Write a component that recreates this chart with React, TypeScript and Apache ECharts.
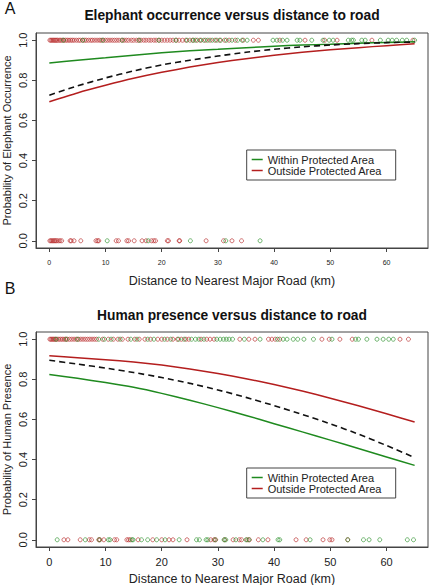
import React, { useEffect, useRef } from "react";
import * as echarts from "echarts";

// Fitted curves read at every 5 km
const distanceGrid = [0, 5, 10, 15, 20, 25, 30, 35, 40, 45, 50, 55, 60, 65];
const elephantWithin = [0.887, 0.9, 0.912, 0.925, 0.937, 0.947, 0.955, 0.963, 0.97, 0.976, 0.98, 0.985, 0.989, 0.992];
const elephantOutside = [0.693, 0.737, 0.775, 0.81, 0.84, 0.866, 0.889, 0.908, 0.925, 0.94, 0.952, 0.963, 0.973, 0.982];
const elephantOverall = [0.726, 0.772, 0.812, 0.847, 0.877, 0.9, 0.921, 0.94, 0.955, 0.967, 0.976, 0.983, 0.988, 0.991];
const humanWithin = [0.824, 0.805, 0.784, 0.76, 0.73, 0.696, 0.659, 0.62, 0.579, 0.538, 0.497, 0.455, 0.413, 0.371];
const humanOutside = [0.917, 0.908, 0.898, 0.886, 0.871, 0.852, 0.829, 0.803, 0.774, 0.742, 0.706, 0.668, 0.628, 0.587];
const humanOverall = [0.895, 0.876, 0.856, 0.834, 0.809, 0.78, 0.747, 0.71, 0.669, 0.625, 0.578, 0.527, 0.47, 0.41];

// Observations (distance in km)
const elephantPresentOutside = [0.1, 0.3, 0.5, 0.7, 0.9, 1.1, 1.3, 1.5, 1.8, 2.0, 2.3, 2.6, 2.9, 3.2, 3.5, 3.8, 4.1, 4.4, 4.8, 5.2, 5.5, 5.9, 6.3, 6.6, 7.0, 7.4, 7.7, 8.1, 8.5, 8.9, 9.2, 9.6, 10.0, 10.4, 10.8, 11.2, 11.6, 12.0, 12.4, 12.9, 13.3, 13.7, 14.1, 14.6, 15.0, 15.5, 15.9, 16.3, 16.8, 17.2, 17.7, 18.1, 18.6, 19.0, 19.5, 20.0, 20.5, 21.0, 21.5, 22.0, 22.6, 23.1, 23.7, 24.3, 25.0, 25.6, 26.3, 27.0, 27.8, 28.6, 29.5, 30.3, 31.2, 32.0, 33.1, 34.5, 36.3, 37.2, 41.0, 45.5, 49.0, 51.2, 57.4, 64.7];
const elephantPresentWithin = [2.5, 6.0, 9.5, 13.0, 16.0, 19.5, 22.5, 24.5, 25.5, 26.0, 26.8, 27.5, 28.2, 29.0, 29.8, 30.5, 31.5, 32.5, 33.5, 34.3, 35.2, 39.8, 40.5, 41.5, 42.3, 44.1, 44.6, 46.7, 48.7, 49.8, 50.5, 53.2, 53.8, 54.1, 55.6, 56.2, 58.9, 60.3, 61.0, 61.8, 62.8, 63.6, 65.0];
const elephantAbsentOutside = [0.1, 0.3, 0.5, 0.7, 0.9, 1.1, 1.3, 1.6, 1.9, 2.2, 3.7, 3.9, 4.4, 5.6, 8.3, 8.6, 8.8, 11.9, 12.3, 13.8, 14.1, 15.1, 16.5, 17.2, 18.2, 18.6, 18.9, 21.0, 21.2, 23.1, 23.2, 27.9, 31.0, 32.5, 34.2];
const elephantAbsentWithin = [10.3, 17.6, 25.1, 31.4, 37.5];
const humanPresentOutside = [0.1, 0.3, 0.5, 0.7, 0.9, 1.1, 1.4, 1.7, 2.0, 2.3, 2.6, 2.9, 3.2, 3.6, 4.0, 4.4, 4.8, 5.2, 5.6, 6.0, 6.4, 6.8, 7.2, 7.6, 8.0, 8.4, 9.5, 10.5, 11.4, 12.2, 13.0, 14.0, 15.2, 16.0, 17.0, 18.0, 19.3, 20.0, 21.0, 22.0, 22.8, 23.5, 24.3, 24.8, 27.0, 28.0, 28.6, 29.3, 33.9, 35.5, 36.6, 39.0, 39.6, 40.2, 41.0, 48.5, 49.8, 51.7, 53.9, 62.4, 63.9];
const humanPresentWithin = [1.2, 3.0, 5.0, 8.8, 9.8, 11.0, 12.6, 14.5, 15.6, 17.5, 18.6, 20.5, 21.6, 23.0, 24.0, 25.3, 26.0, 26.6, 27.5, 29.8, 30.4, 31.0, 31.5, 32.0, 32.6, 34.7, 37.5, 40.6, 41.6, 42.3, 43.4, 44.2, 45.3, 47.0, 50.3, 54.5, 55.0, 56.5, 58.3, 59.4, 60.4, 61.2];
const humanAbsentOutside = [2.6, 3.3, 5.5, 7.1, 7.5, 8.8, 9.0, 9.7, 11.6, 12.0, 13.8, 14.1, 14.4, 15.8, 18.4, 20.0, 21.3, 22.0, 24.5, 28.7, 29.3, 29.6, 31.2, 32.7, 33.8, 34.2, 35.2, 35.6, 37.2, 38.9, 43.9, 45.7, 48.7, 49.9, 50.3, 53.1];
const humanAbsentWithin = [1.4, 6.4, 8.9, 10.5, 10.8, 14.7, 14.9, 16.4, 17.5, 19.1, 20.6, 23.1, 26.2, 26.7, 27.9, 28.2, 29.5, 31.1, 31.4, 33.2, 35.0, 35.5, 38.0, 40.7, 41.0, 46.4, 53.1, 55.9, 56.9, 58.8, 63.7, 64.8];

const xTicks = [0, 10, 20, 30, 40, 50, 60];
const yTicks = [0, 0.2, 0.4, 0.6, 0.8, 1.0];

const titles = ["Elephant occurrence versus distance to road", "Human presence versus distance to road"];
const yNames = ["Probability of Elephant Occurrence", "Probability of Human Presence"];
const xName = "Distance to Nearest Major Road (km)";
const panelLabels = ["A", "B"];
const legendNames = ["Within Protected Area", "Outside Protected Area"];

const GREEN = "#1f8a1f";
const RED = "#b41e1e";
const FONT = "'Liberation Sans', Arial, sans-serif";

export default function App() {
  const ref = useRef<HTMLDivElement>(null);
  useEffect(() => {
    document.body.style.margin = "0";
    const chart = echarts.init(ref.current!, null, { renderer: "svg" });
    const gridTops = [33, 332];
    const gridH = 215;
    const xLabelSize = [7, 11];
    const xLabelMargin = [11, 9];

    const xAxes = [0, 1].map((i) => ({
      type: "value",
      gridIndex: i,
      min: -2.37,
      max: 67.38,
      name: xName,
      nameLocation: "middle",
      nameGap: i === 0 ? 26 : 25,
      nameMoveOverlap: false,
      nameTextStyle: { fontFamily: FONT, fontSize: 12.5, color: "#222" },
      axisLine: { show: true, onZero: false, lineStyle: { color: "#444" } },
      axisTick: { show: true, length: 4, customValues: xTicks, lineStyle: { color: "#444" } },
      axisLabel: {
        customValues: xTicks,
        fontFamily: FONT,
        fontSize: xLabelSize[i],
        color: "#222",
        margin: xLabelMargin[i],
        formatter: (v: number) => String(v),
      },
      splitLine: { show: false },
    }));
    const yAxes = [0, 1].map((i) => ({
      type: "value",
      gridIndex: i,
      min: -0.036,
      max: 1.036,
      name: yNames[i],
      nameLocation: "middle",
      nameGap: 24,
      nameMoveOverlap: false,
      nameTextStyle: { fontFamily: FONT, fontSize: 11, color: "#222" },
      axisLine: { show: true, onZero: false, lineStyle: { color: "#444" } },
      axisTick: { show: true, length: 4, customValues: yTicks, lineStyle: { color: "#444" } },
      axisLabel: {
        customValues: yTicks,
        rotate: 90,
        align: "center",
        verticalAlign: "bottom",
        fontFamily: FONT,
        fontSize: 11,
        color: "#222",
        margin: 8,
        formatter: (v: number) => v.toFixed(1),
      },
      splitLine: { show: false },
    }));

    const pts = (xs: number[], y: number) => xs.map((x) => [x, y]);
    const curve = (ys: number[]) => distanceGrid.map((d, k) => [d, ys[k]]);
    const scatter = (i: number, name: string, color: string, data: number[][]) => ({
      type: "scatter",
      name,
      xAxisIndex: i,
      yAxisIndex: i,
      symbol: "circle",
      symbolSize: 4,
      data,
      itemStyle: { color: "rgba(0,0,0,0)", borderColor: color, borderWidth: 0.8 },
      silent: true,
    });
    const line = (i: number, name: string, color: string, ys: number[], dashed: boolean) => ({
      type: "line",
      name,
      xAxisIndex: i,
      yAxisIndex: i,
      data: curve(ys),
      smooth: 0.2,
      showSymbol: false,
      lineStyle: { color, width: dashed ? 1.6 : 1.5, type: dashed ? [6, 4] : "solid" },
      silent: true,
      z: 3,
    });

    const series = [
      scatter(0, legendNames[1], RED, [...pts(elephantPresentOutside, 1), ...pts(elephantAbsentOutside, 0)]),
      scatter(0, legendNames[0], GREEN, [...pts(elephantPresentWithin, 1), ...pts(elephantAbsentWithin, 0)]),
      line(0, legendNames[0], GREEN, elephantWithin, false),
      line(0, legendNames[1], RED, elephantOutside, false),
      line(0, "Overall", "#111", elephantOverall, true),
      scatter(1, legendNames[1], RED, [...pts(humanPresentOutside, 1), ...pts(humanAbsentOutside, 0)]),
      scatter(1, legendNames[0], GREEN, [...pts(humanPresentWithin, 1), ...pts(humanAbsentWithin, 0)]),
      line(1, legendNames[0], GREEN, humanWithin, false),
      line(1, legendNames[1], RED, humanOutside, false),
      line(1, "Overall", "#111", humanOverall, true),
    ];

    const legendBox = (top: number) => ({
      type: "group",
      x: 246.7,
      y: top,
      children: [
        { type: "rect", shape: { x: 0, y: 0, width: 149, height: 30 }, style: { fill: "#fff", stroke: "#444", lineWidth: 1 } },
        { type: "line", shape: { x1: 5, y1: 9.5, x2: 16, y2: 9.5 }, style: { stroke: GREEN, lineWidth: 1.5 } },
        { type: "line", shape: { x1: 5, y1: 20.5, x2: 16, y2: 20.5 }, style: { stroke: RED, lineWidth: 1.5 } },
        { type: "text", x: 21, y: 9.5, style: { text: legendNames[0], font: `11px ${FONT}`, fill: "#222", verticalAlign: "middle" } },
        { type: "text", x: 21, y: 20.5, style: { text: legendNames[1], font: `11px ${FONT}`, fill: "#222", verticalAlign: "middle" } },
      ],
    });

    chart.setOption({
      animation: false,
      backgroundColor: "#fff",
      grid: gridTops.map((t) => ({
        left: 36,
        top: t,
        width: 392,
        height: gridH,
        containLabel: false,
        outerBoundsMode: "none",
        show: true,
        borderColor: "#444",
        borderWidth: 1,
        backgroundColor: "rgba(0,0,0,0)",
      })),
      xAxis: xAxes,
      yAxis: yAxes,
      series,
      graphic: [
        { type: "text", x: 232, y: 15, style: { text: titles[0], font: `bold 13.8px ${FONT}`, fill: "#111", align: "center", verticalAlign: "middle" } },
        { type: "text", x: 232, y: 315, style: { text: titles[1], font: `bold 13.8px ${FONT}`, fill: "#111", align: "center", verticalAlign: "middle" } },
        { type: "text", x: 10, y: 8, style: { text: panelLabels[0], font: `16px ${FONT}`, fill: "#111", align: "center", verticalAlign: "middle" } },
        { type: "text", x: 10, y: 288, style: { text: panelLabels[1], font: `16px ${FONT}`, fill: "#111", align: "center", verticalAlign: "middle" } },
        legendBox(150),
        legendBox(468),
      ],
    });
    return () => chart.dispose();
  }, []);
  return <div ref={ref} style={{ position: "absolute", left: 0, top: 0, width: 429, height: 585 }} />;
}
